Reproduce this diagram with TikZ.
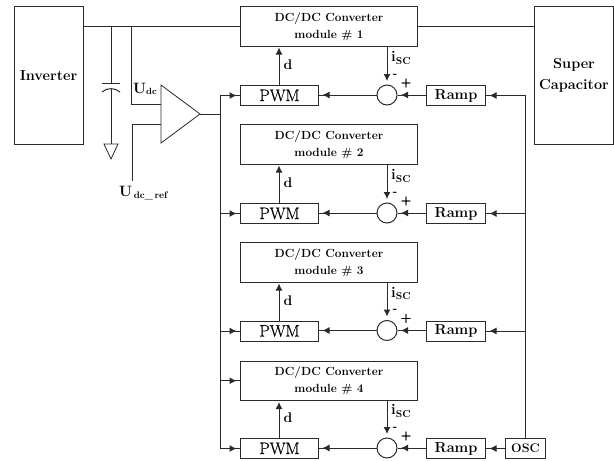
\documentclass[tikz,border=0pt]{standalone}
\usepackage{fontspec}
\newfontfamily\heavyreg[FakeBold=0.6]{Latin Modern Roman}
\usetikzlibrary{arrows.meta,calc}
\definecolor{ink}{HTML}{2A2A2A}
\tikzset{
  x=1pt,y=-1pt,
  wire/.style={draw=ink,line width=1pt},
  boxnode/.style={draw=ink,line width=1pt,inner sep=0pt,anchor=north west,align=center,text=black},
  sumnode/.style={circle,draw=ink,line width=1pt,minimum size=20pt,inner sep=0pt},
  arr/.style={wire,-{Latex[length=7pt,width=7pt]}},
  gaparr/.style={wire,-{Latex[length=7pt,width=7pt]},shorten >=3.5pt},
  lbl/.style={inner sep=0pt,text=black},
  conv/.style={boxnode,minimum width=177pt,minimum height=39.5pt,font=\fontsize{11.8}{17}\selectfont\bfseries},
  pwm/.style={boxnode,minimum width=78pt,minimum height=20pt,font=\fontsize{16.5}{16.5}\selectfont\heavyreg},
  ramp/.style={boxnode,minimum width=59pt,minimum height=20pt,font=\fontsize{14.5}{14.5}\selectfont\bfseries},
  big/.style={boxnode,minimum height=138pt,font=\fontsize{14.5}{21}\selectfont\bfseries}
}
\newcommand{\isc}{\textbf{i}\raisebox{-2.5pt}{\fontsize{10}{10}\selectfont\textbf{SC}}}
\begin{document}
\begin{tikzpicture}
\path[use as bounding box] (0,0) rectangle (614,461);
\node[big,minimum width=69pt] (inv) at (13.5,6) {Inverter};
\node[big,minimum width=79pt] (sc) at (534,6) {Super\\Capacitor};
\coordinate (bus1) at (111,26);
\coordinate (bus2) at (131,26);
\coordinate (trL) at (161,85);
\coordinate (trB) at (161,143);
\coordinate (trR) at (200,114);
\coordinate (inA) at (161,104);
\coordinate (inB) at (161,124);
\coordinate (refEnd) at (132,181);
\coordinate (leftTop) at (220,95);
\coordinate (leftBot) at (220,448);
\coordinate (leftMid) at (220,114);
\coordinate (rightTop) at (525,95);
\node[boxnode,minimum width=40pt,minimum height=20pt,font=\fontsize{12.5}{12.5}\selectfont\bfseries] (osc) at (505,438) {OSC};
\foreach \n/\ty/\py in {1/6/85,2/124/203,3/242/320.5,4/360.5/438}{
  \node[conv] (c\n) at (240,\ty) {DC/DC Converter\\module \# \n};
  \node[pwm] (p\n) at (240,\py) {PWM};
  \node[ramp] (r\n) at (426,\py) {Ramp};
  \node[sumnode] (s\n) at (387,\py+10) {};
  \coordinate (dx\n) at (279,\py);
  \draw[wire] (s\n.east) -- (s\n.east -| r\n.west);
  \draw[gaparr] (s\n.east -| r\n.west) -- (s\n.east);
  \draw[wire] (s\n.west) -- (s\n.west -| p\n.east);
  \draw[gaparr] (s\n.west) -- (s\n.west -| p\n.east);
  \draw[gaparr] (c\n.south -| s\n.north) -- (s\n.north);
  \draw[arr,shorten >=1pt] (dx\n) -- (dx\n |- c\n.south);
  \node[lbl,font=\fontsize{14}{14}\selectfont\bfseries] (d\n) at (288,\py-20) {d};
  \node[lbl,font=\fontsize{15}{15}\selectfont,anchor=west] (i\n) at (391,\py-27) {\isc};
  \node[lbl,font=\fontsize{12}{12}\selectfont\bfseries] (m\n) at (395,\py-9.5) {-};
  \node[lbl,font=\fontsize{14}{14}\selectfont\heavyreg] (pl\n) at (406,\py-2) {+};
  \draw[wire] (leftTop |- p\n.west) -- (p\n.west);
  \draw[gaparr] (leftTop |- p\n.west) -- (p\n.west);
}
\foreach \n in {1,2,3}{
  \draw[wire] (rightTop |- r\n.east) -- (r\n.east);
  \draw[gaparr] (rightTop |- r\n.east) -- (r\n.east);
}
\draw[wire] (osc.west) -- (r4.east);
\draw[gaparr] (osc.west) -- (r4.east);
\draw[wire] (rightTop) -- (osc.north -| rightTop);
\draw[wire] (leftTop) -- (leftBot);
\draw[wire] (leftTop |- c4.west) -- (c4.west);
\draw[gaparr] (leftTop |- c4.west) -- (c4.west);
\draw[wire] (inv.east |- bus1) -- (c1.west |- bus1);
\draw[wire] (c1.east |- bus1) -- (sc.west |- bus1);
\draw[wire,line width=.8pt] (trL) -- (trB) -- (trR) -- cycle;
\draw[wire] (trR) -- (leftMid);
\draw[wire] (bus2) -- (bus2 |- inA) -- (inA);
\draw[wire] (refEnd) -- (refEnd |- inB) -- (inB);
% capacitor and ground
\coordinate (capT) at (111,83.5);
\coordinate (capB) at (111,89);
\coordinate (gnd) at (111,144);
\draw[wire] (bus1) -- (capT);
\draw[wire] (102,83.5) -- (120,83.5);
\draw[wire] (102,92) .. controls (107,87.5) and (115,87.5) .. (120,92);
\draw[wire] (capB) -- (gnd);
\draw[wire,line width=.8pt] (104,144) -- (118,144) -- (111,159) -- cycle;
\node[lbl,font=\fontsize{15}{15}\selectfont\bfseries,anchor=west] (udc) at (133,89) {U\raisebox{-1.5pt}{\fontsize{9}{9}\selectfont dc}};
\node[lbl,font=\fontsize{15}{15}\selectfont\bfseries,anchor=west] (uref) at (119,193) {U\raisebox{-1.5pt}{\fontsize{9.5}{9.5}\selectfont\,dc\_\,ref}};
\end{tikzpicture}
\end{document}
